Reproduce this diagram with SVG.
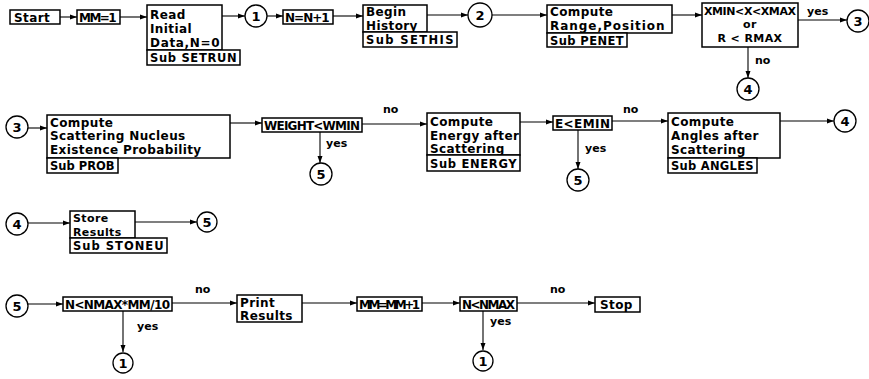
<svg xmlns="http://www.w3.org/2000/svg" width="869" height="379" viewBox="0 0 869 379">
<style>
  .box { fill: #fff; stroke: #000; stroke-width: 1.5; }
  .cir { fill: #fff; stroke: #000; stroke-width: 1.3; }
  .t { font-family: "DejaVu Sans", "Liberation Sans", sans-serif; font-weight: bold; font-size: 12px; fill: #000; letter-spacing: 0.4px; }
  .s { font-size: 11.5px; }
  .m { font-size: 11px; }
  .c { font-family: "DejaVu Sans", "Liberation Sans", sans-serif; font-weight: bold; font-size: 13px; fill: #000; text-anchor: middle; }
  .lbl { font-family: "DejaVu Sans", "Liberation Sans", sans-serif; font-weight: bold; font-size: 11px; fill: #000; }
  .ln { fill: none; stroke: #000; stroke-width: 1.1; marker-end: url(#ah); }
</style>
<defs>
  <marker id="ah" markerUnits="userSpaceOnUse" markerWidth="8" markerHeight="6" refX="7" refY="3" orient="auto">
    <path d="M0,0.5 L7,3 L0,5.5 Z" fill="#000"/>
  </marker>
</defs>
<rect width="869" height="379" fill="#fff"/>

<g id="connectors">
  <line class="ln" x1="60" y1="17" x2="77" y2="17"/>
  <line class="ln" x1="120" y1="17" x2="147" y2="17"/>
  <line class="ln" x1="222" y1="16" x2="245" y2="16"/>
  <line class="ln" x1="267" y1="16" x2="283" y2="16"/>
  <line class="ln" x1="333" y1="16" x2="363" y2="16"/>
  <line class="ln" x1="427" y1="15" x2="468" y2="15"/>
  <line class="ln" x1="492" y1="15" x2="547" y2="15"/>
  <line class="ln" x1="672" y1="15" x2="702" y2="15"/>
  <line class="ln" x1="798" y1="20" x2="847" y2="20"/>
  <line class="ln" x1="748" y1="47" x2="748" y2="78"/>

  <line class="ln" x1="28" y1="128" x2="47" y2="128"/>
  <line class="ln" x1="230" y1="123" x2="262" y2="123"/>
  <line class="ln" x1="362" y1="124" x2="427" y2="124"/>
  <line class="ln" x1="320" y1="132" x2="320" y2="163"/>
  <line class="ln" x1="520" y1="122" x2="553" y2="122"/>
  <line class="ln" x1="578" y1="130" x2="578" y2="169"/>
  <line class="ln" x1="612" y1="121" x2="668" y2="121"/>
  <line class="ln" x1="780" y1="121" x2="834" y2="121"/>

  <line class="ln" x1="28" y1="223" x2="70" y2="223"/>
  <line class="ln" x1="135" y1="222" x2="197" y2="222"/>

  <line class="ln" x1="28" y1="304" x2="63" y2="304"/>
  <line class="ln" x1="172" y1="303" x2="237" y2="303"/>
  <line class="ln" x1="302" y1="303" x2="357" y2="303"/>
  <line class="ln" x1="422" y1="303" x2="460" y2="303"/>
  <line class="ln" x1="517" y1="303" x2="595" y2="303"/>
  <line class="ln" x1="123" y1="311" x2="123" y2="352"/>
  <line class="ln" x1="483" y1="311" x2="483" y2="350"/>

  <text class="lbl" x="807" y="15">yes</text>
  <text class="lbl" x="755" y="64">no</text>
  <text class="lbl" x="383" y="113">no</text>
  <text class="lbl" x="326" y="147">yes</text>
  <text class="lbl" x="585" y="152">yes</text>
  <text class="lbl" x="623" y="113">no</text>
  <text class="lbl" x="195" y="293">no</text>
  <text class="lbl" x="137" y="330">yes</text>
  <text class="lbl" x="550" y="293">no</text>
  <text class="lbl" x="490" y="325">yes</text>
</g>

<g id="start"><rect class="box" x="10" y="10" width="50" height="14"/><text class="t" x="14" y="21.5">Start</text></g>
<g id="mm1"><rect class="box" x="77" y="10" width="43" height="14"/><text class="t" x="79" y="21.5" textLength="38">MM=1</text></g>
<g id="read">
  <rect class="box" x="147" y="5" width="75" height="45"/>
  <text class="t" x="150" y="19">Read</text>
  <text class="t" x="150" y="33">Initial</text>
  <text class="t" x="150" y="47" textLength="70">Data,N=0</text>
  <rect class="box" x="147" y="50" width="93" height="15"/>
  <text class="t s" x="150" y="62" textLength="87">Sub SETRUN</text>
</g>
<g id="c1a"><circle class="cir" cx="256" cy="16" r="11"/><text class="c" x="256" y="21">1</text></g>
<g id="nn1"><rect class="box" x="283" y="10" width="50" height="14"/><text class="t" x="285" y="21.5" textLength="45">N=N+1</text></g>
<g id="begin">
  <rect class="box" x="363" y="5" width="64" height="27"/>
  <text class="t" x="366" y="16">Begin</text>
  <text class="t" x="366" y="29.5">History</text>
  <rect class="box" x="363" y="32" width="94" height="15"/>
  <text class="t s" x="366" y="44" textLength="88">Sub SETHIS</text>
</g>
<g id="c2"><circle class="cir" cx="480" cy="15" r="12"/><text class="c" x="480" y="20">2</text></g>
<g id="range">
  <rect class="box" x="547" y="5" width="125" height="28"/>
  <text class="t" x="550" y="16">Compute</text>
  <text class="t" x="550" y="30" textLength="115">Range,Position</text>
  <rect class="box" x="547" y="33" width="80" height="14"/>
  <text class="t s" x="550" y="45" textLength="74">Sub PENET</text>
</g>
<g id="xmin">
  <rect class="box" x="702" y="3" width="96" height="44"/>
  <text class="t m" x="750" y="15" text-anchor="middle" textLength="92" style="letter-spacing:0">XMIN&lt;X&lt;XMAX</text>
  <text class="t m" x="750" y="28" text-anchor="middle">or</text>
  <text class="t m" x="750" y="41.5" text-anchor="middle">R &lt; RMAX</text>
</g>
<g id="c3a"><circle class="cir" cx="858" cy="21" r="11"/><text class="c" x="858" y="26">3</text></g>
<g id="c4a"><circle class="cir" cx="748" cy="89" r="11"/><text class="c" x="748" y="94">4</text></g>

<g id="c3b"><circle class="cir" cx="17" cy="127" r="11"/><text class="c" x="17" y="132">3</text></g>
<g id="prob">
  <rect class="box" x="47" y="115" width="183" height="43"/>
  <text class="t" x="50" y="127">Compute</text>
  <text class="t" x="50" y="140">Scattering  Nucleus</text>
  <text class="t" x="50" y="154">Existence  Probability</text>
  <rect class="box" x="47" y="158" width="71" height="15"/>
  <text class="t s" x="50" y="170" textLength="65">Sub PROB</text>
</g>
<g id="weight"><rect class="box" x="262" y="118" width="100" height="14"/><text class="t" x="264" y="129.5" textLength="96" style="letter-spacing:0">WEIGHT&lt;WMIN</text></g>
<g id="c5a"><circle class="cir" cx="321" cy="174" r="11"/><text class="c" x="321" y="179">5</text></g>
<g id="energy">
  <rect class="box" x="427" y="113" width="93" height="42"/>
  <text class="t" x="430" y="126">Compute</text>
  <text class="t" x="430" y="140">Energy after</text>
  <text class="t" x="430" y="153">Scattering</text>
  <rect class="box" x="427" y="155" width="93" height="16"/>
  <text class="t s" x="430" y="168" textLength="87">Sub ENERGY</text>
</g>
<g id="emin"><rect class="box" x="553" y="116" width="59" height="14"/><text class="t" x="555" y="127.5" textLength="55" style="letter-spacing:0">E&lt;EMIN</text></g>
<g id="c5b"><circle class="cir" cx="578" cy="180" r="11"/><text class="c" x="578" y="185">5</text></g>
<g id="angles">
  <rect class="box" x="668" y="113" width="112" height="45"/>
  <text class="t" x="671" y="126">Compute</text>
  <text class="t" x="671" y="140">Angles  after</text>
  <text class="t" x="671" y="154">Scattering</text>
  <rect class="box" x="668" y="158" width="89" height="15"/>
  <text class="t s" x="671" y="170" textLength="83">Sub ANGLES</text>
</g>
<g id="c4b"><circle class="cir" cx="845" cy="121" r="11"/><text class="c" x="845" y="126">4</text></g>

<g id="c4c"><circle class="cir" cx="17" cy="224" r="11"/><text class="c" x="17" y="229">4</text></g>
<g id="store">
  <rect class="box" x="70" y="211" width="65" height="27"/>
  <text class="t m" x="73" y="222">Store</text>
  <text class="t m" x="73" y="235.5">Results</text>
  <rect class="box" x="70" y="238" width="97" height="15"/>
  <text class="t s" x="73" y="250" textLength="91">Sub STONEU</text>
</g>
<g id="c5c"><circle class="cir" cx="207" cy="222" r="10"/><text class="c" x="207" y="227">5</text></g>

<g id="c5d"><circle class="cir" cx="17" cy="306" r="11"/><text class="c" x="17" y="311">5</text></g>
<g id="nmaxmm"><rect class="box" x="63" y="297" width="109" height="14"/><text class="t" x="65" y="308.5" textLength="105" style="letter-spacing:0">N&lt;NMAX*MM/10</text></g>
<g id="print">
  <rect class="box" x="237" y="295" width="65" height="27"/>
  <text class="t" x="240" y="306.5">Print</text>
  <text class="t" x="240" y="319.5">Results</text>
</g>
<g id="mmplus"><rect class="box" x="357" y="297" width="65" height="14"/><text class="t" x="359" y="308.5" textLength="61" style="letter-spacing:0">MM=MM+1</text></g>
<g id="nmax"><rect class="box" x="460" y="297" width="57" height="14"/><text class="t" x="462" y="308.5" textLength="53" style="letter-spacing:0">N&lt;NMAX</text></g>
<g id="stop"><rect class="box" x="595" y="297" width="45" height="15"/><text class="t" x="600" y="309">Stop</text></g>
<g id="c1b"><circle class="cir" cx="123" cy="363" r="10"/><text class="c" x="123" y="368">1</text></g>
<g id="c1c"><circle class="cir" cx="483" cy="361" r="10"/><text class="c" x="483" y="366">1</text></g>
</svg>
